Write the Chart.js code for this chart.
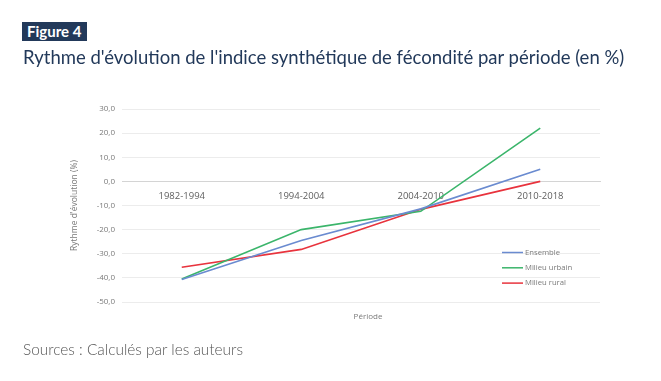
<!DOCTYPE html>
<html lang="fr">
<head>
<meta charset="utf-8">
<title>Figure 4</title>
<script src="https://cdn.jsdelivr.net/npm/chart.js@4/dist/chart.umd.min.js"></script>
<style>
  html, body { margin: 0; padding: 0; background: #fff; }
  body { width: 661px; height: 381px; position: relative; overflow: hidden; font-family: Lato, "Noto Sans", sans-serif; }
  #chart { position: absolute; left: 0; top: 0; }
  .badge { position: absolute; left: 22px; top: 22px; width: 65px; height: 19px; box-sizing: border-box; padding-left: 5px; background: #22395a; color: #fff; font-size: 15px; font-weight: 700; line-height: 19px; }
  .title { position: absolute; left: 23px; top: 46px; color: #22395a; font-size: 18.5px; white-space: nowrap; }
  .axis-x { position: absolute; left: 336px; top: 310px; width: 64px; text-align: center; color: #7a7a7a; font-family: "Open Sans", sans-serif; font-size: 8px; }
  .source { position: absolute; left: 23px; top: 340px; color: #555; font-size: 15.4px; font-weight: 300; }
</style>
</head>
<body>
<canvas id="chart" width="661" height="381"></canvas>
<div class="badge">Figure 4</div>
<div class="title">Rythme d'évolution de l'indice synthétique de fécondité par période (en %)</div>
<div class="axis-x">Période</div>
<div class="source">Sources : Calculés par les auteurs</div>
<script>
const periods = ["1982-1994", "1994-2004", "2004-2010", "2010-2018"];
const ensemble = [-40.7, -24.5, -11.4, 5.0];
const milieuUrbain = [-40.5, -20.0, -12.4, 22.1];
const milieuRural = [-35.6, -28.2, -11.6, 0.0];
const seriesLabels = ["Ensemble", "Milieu urbain", "Milieu rural"];
const seriesColors = ["#6a8bd0", "#3bb56b", "#e8333d"];

const tickFont = { family: "'Open Sans', sans-serif", size: 8 };

// legend drawn inside the plot, bottom right, like the original
const insideLegend = {
  id: "insideLegend",
  afterDraw(chart) {
    const ctx = chart.ctx;
    const x0 = 502, y0 = 252.5, step = 15.3;
    ctx.save();
    ctx.font = "7.7px 'Open Sans', sans-serif";
    ctx.textBaseline = "middle";
    chart.data.datasets.forEach((ds, i) => {
      const y = y0 + i * step;
      ctx.strokeStyle = ds.borderColor;
      ctx.lineWidth = 1.5;
      ctx.beginPath();
      ctx.moveTo(x0, y);
      ctx.lineTo(x0 + 21, y);
      ctx.stroke();
      ctx.fillStyle = "#7a7a7a";
      ctx.fillText(ds.label, x0 + 23, y);
    });
    ctx.restore();
  }
};

new Chart(document.getElementById("chart"), {
  type: "line",
  data: {
    labels: periods,
    datasets: [ensemble, milieuUrbain, milieuRural].map((values, i) => ({
      label: seriesLabels[i],
      data: values,
      borderColor: seriesColors[i],
      backgroundColor: seriesColors[i],
      borderWidth: 1.6,
      pointRadius: 0,
      tension: 0
    }))
  },
  options: {
    responsive: false,
    animation: false,
    layout: { padding: { left: 68, right: 61, top: 109, bottom: 79 } },
    plugins: { legend: { display: false }, tooltip: { enabled: false } },
    scales: {
      x: {
        position: { y: 0 },
        offset: true,
        afterFit(scale) { scale.height = 0; },
        grid: { display: false, offset: true },
        border: { color: "#d4d4d4", width: 1 },
        ticks: { color: "#5e5e5e", font: { family: "'Open Sans', sans-serif", size: 9.5 }, padding: 1, maxRotation: 0, autoSkip: false }
      },
      y: {
        min: -50,
        max: 30,
        afterFit(scale) { scale.width = 54; },
        grid: { color: "#ececec", drawTicks: false },
        border: { display: false },
        ticks: {
          stepSize: 10,
          padding: 7,
          color: "#7a7a7a",
          font: tickFont,
          callback: (v) => v.toFixed(1).replace(".", ",")
        },
        title: {
          display: true,
          text: "Rythme d'évolution (%)",
          color: "#7a7a7a",
          font: { family: "'Open Sans', sans-serif", size: 8.5 },
          padding: { top: 1, bottom: 0 }
        }
      }
    }
  },
  plugins: [insideLegend]
});
</script>
</body>
</html>
